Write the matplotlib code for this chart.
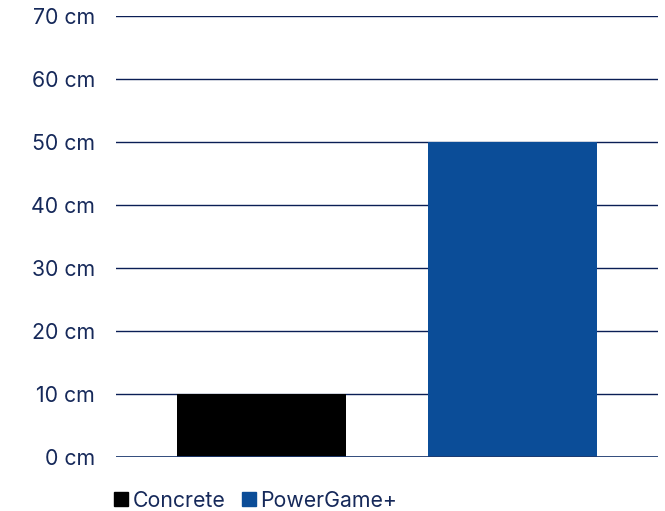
import matplotlib.pyplot as plt
from matplotlib.patches import Patch

categories = ["Concrete", "PowerGame+"]
values = [10, 50]
colors = ["#000000", "#0B4D98"]
yticks = [0, 10, 20, 30, 40, 50, 60, 70]
ylabels = [f"{t} cm" for t in yticks]

navy = "#16295A"
plt.rcParams['font.family'] = ['Inter', 'DejaVu Sans']

fig = plt.figure(figsize=(6.65, 5.11), dpi=100)
ax = fig.add_axes([116 / 665, 1 - 457 / 511, 542 / 665, 441 / 511])

ax.bar(range(len(values)), values, width=0.675, color=colors, zorder=3)
ax.set_xlim(-0.582, 1.582)
ax.set_ylim(0, 70)
ax.set_yticks(yticks)
ax.set_yticklabels(ylabels)
ax.set_xticks([])
ax.tick_params(axis='y', length=0, pad=15, labelsize=15.3, labelcolor=navy)
for t in yticks[1:]:
    ax.axhline(t, color="#0A1E55", lw=1, zorder=1)
ax.axhline(0, color="#1E3A70", lw=2, zorder=4)
for s in ax.spines.values():
    s.set_visible(False)

handles = [Patch(color=c, label=l) for c, l in zip(colors, categories)]
fig.legend(handles=handles, loc='lower left', bbox_to_anchor=(95 / 665, -0.037),
           ncol=2, frameon=False, fontsize=15.3, labelcolor=navy,
           handlelength=0.66, handleheight=0.66, handletextpad=0.2, columnspacing=0.78)

fig.savefig("out.png", dpi=100)
